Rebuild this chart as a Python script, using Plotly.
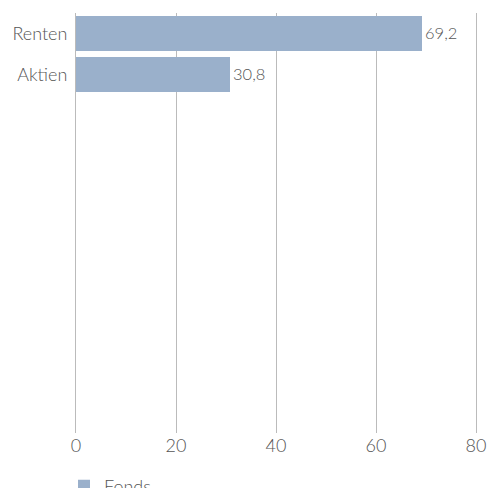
import plotly.graph_objects as go

categories = ["Renten", "Aktien"]
values = [69.2, 30.8]
series_name = "Fonds"
x_ticks = [0, 20, 40, 60, 80]

bar_color = "#9AB0CB"
text_color = "#555555"
grid_color = "#BBBBBB"
tick_font = dict(family="Lato, Open Sans, sans-serif", size=18, color=text_color, weight=300)
label_font = dict(family="Lato, Open Sans, sans-serif", size=16.5, color=text_color, weight=300)

fig = go.Figure()
fig.add_trace(go.Bar(
    x=values,
    y=list(range(len(categories))),
    orientation="h",
    name=series_name,
    marker=dict(color=bar_color, line=dict(width=0)),
    width=0.85,
    text=[f"{v:.1f}".replace(".", ",") for v in values],
    textposition="outside",
    textfont=label_font,
    cliponaxis=False,
    showlegend=True,
))

fig.update_layout(
    width=489, height=488,
    margin=dict(l=76, r=13, t=13, b=55, autoexpand=False),
    paper_bgcolor="white", plot_bgcolor="white",
    font=tick_font,
    separators=",.",
    showlegend=True,
    legend=dict(orientation="h", x=-0.03, xanchor="left", y=-0.082, yanchor="top",
                font=tick_font, itemwidth=30, tracegroupgap=0),
    xaxis=dict(range=[0, 80], tickvals=x_ticks, showgrid=True, gridcolor=grid_color,
               gridwidth=1, zeroline=False, showline=False, ticks="", tickfont=tick_font,
               automargin=False, fixedrange=True),
    yaxis=dict(range=[9.75, -0.5], tickvals=list(range(len(categories))), ticktext=categories,
               showgrid=False, zeroline=False, showline=True, mirror=True,
               linecolor=grid_color, linewidth=1, ticks="", tickfont=tick_font,
               ticklabelstandoff=4, automargin=False),
    bargap=0.15,
)

fig.write_html(
    "out.html",
    config={"displayModeBar": False},
    post_script="document.body.style.margin='0';document.body.style.overflow='hidden';",
)
